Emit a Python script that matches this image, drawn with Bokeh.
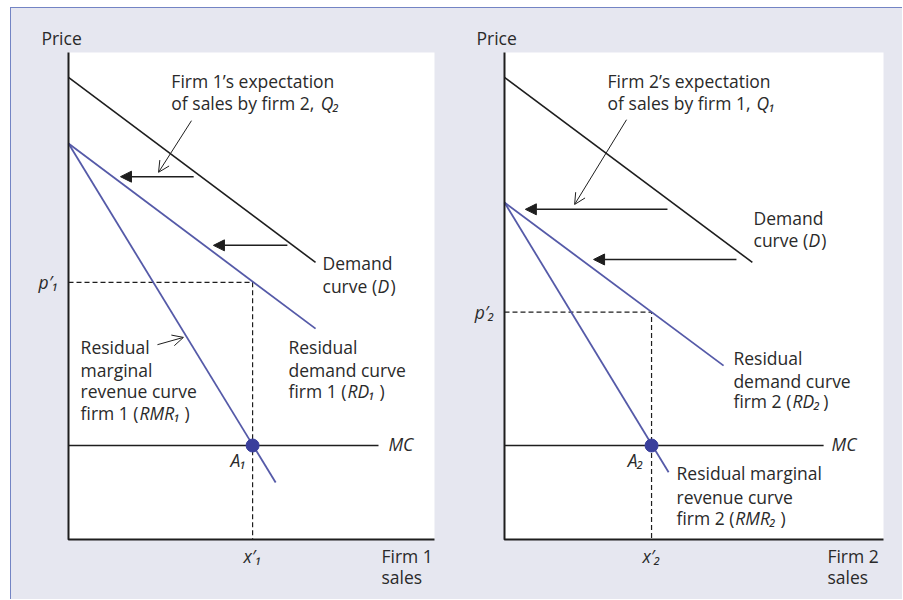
from bokeh.plotting import figure
from bokeh.layouts import row
from bokeh.models import Range1d, Label, Arrow, NormalHead, OpenHead, ColumnDataSource
from bokeh.embed import file_html
from bokeh.resources import INLINE

# ---------------- data (price and quantity on 0-10 scales) -------------
# Firm 1 panel
f1_demand_q = [0.0, 6.75]
f1_demand_p = [9.49, 5.69]
f1_rd_q = [0.0, 6.75]
f1_rd_p = [8.13, 4.33]
f1_rmr_q = [0.0, 5.66]
f1_rmr_p = [8.13, 1.17]
f1_mc_q = [0.0, 8.47]
f1_mc_p = [1.93, 1.93]
f1_x_opt = 5.03
f1_p_opt = 5.28
f1_shift_p = [7.45, 6.04]
f1_shift_from = [3.42, 5.98]
f1_shift_to = [1.42, 3.96]
f1_note_from = (3.36, 8.60)
f1_note_to = (2.46, 7.54)
f1_rmr_note_from = (2.43, 4.00)
f1_rmr_note_to = (3.14, 4.15)

# Firm 2 panel
f2_demand_q = [0.0, 6.54]
f2_demand_p = [9.49, 5.69]
f2_rd_q = [0.0, 5.78]
f2_rd_p = [6.92, 3.57]
f2_rmr_q = [0.0, 4.33]
f2_rmr_p = [6.92, 1.38]
f2_mc_q = [0.0, 8.42]
f2_mc_p = [1.93, 1.93]
f2_x_opt = 3.88
f2_p_opt = 4.67
f2_shift_p = [6.78, 5.75]
f2_shift_from = [4.30, 6.12]
f2_shift_to = [0.55, 2.35]
f2_note_from = (3.22, 8.62)
f2_note_to = (1.85, 6.88)

# axis extent of both panels (quantity, price)
axis_q = [0.0, 0.0, 10.0]
axis_p = [10.0, 0.0, 0.0]

# tick labels
f1_p_tick = "p′₁"
f1_x_tick = "x′₁"
f2_p_tick = "p′₂"
f2_x_tick = "x′₂"

# text labels: (text, x, y, style, align)
f1_labels = [
    ("Price", -0.74, 10.29, "normal", "left"),
    ("Firm 1’s expectation", 2.81, 9.42, "normal", "left"),
    ("of sales by firm 2,", 2.81, 8.97, "normal", "left"),
    ("Q₂", 6.89, 8.97, "italic", "left"),
    ("Demand", 6.94, 5.67, "normal", "left"),
    ("curve (", 6.94, 5.20, "normal", "left"),
    ("D", 8.44, 5.20, "italic", "left"),
    (")", 8.80, 5.20, "normal", "left"),
    ("Residual", 0.33, 3.96, "normal", "left"),
    ("marginal", 0.33, 3.49, "normal", "left"),
    ("revenue curve", 0.33, 3.04, "normal", "left"),
    ("firm 1 (", 0.33, 2.59, "normal", "left"),
    ("RMR₁", 1.94, 2.59, "italic", "left"),
    (")", 3.17, 2.59, "normal", "left"),
    ("Residual", 6.01, 3.96, "normal", "left"),
    ("demand curve", 6.01, 3.49, "normal", "left"),
    ("firm 1 (", 6.01, 3.04, "normal", "left"),
    ("RD₁", 7.62, 3.04, "italic", "left"),
    (")", 8.50, 3.04, "normal", "left"),
    ("MC", 8.74, 1.97, "italic", "left"),
    ("A₁", 4.86, 1.64, "italic", "right"),
    ("Firm 1", 8.55, -0.33, "normal", "left"),
    ("sales", 8.55, -0.78, "normal", "left"),
]
f2_labels = [
    ("Price", -0.74, 10.29, "normal", "left"),
    ("Firm 2’s expectation", 2.72, 9.42, "normal", "left"),
    ("of sales by firm 1,", 2.72, 8.97, "normal", "left"),
    ("Q₁", 6.65, 8.97, "italic", "left"),
    ("Demand", 6.57, 6.61, "normal", "left"),
    ("curve (", 6.57, 6.14, "normal", "left"),
    ("D", 8.02, 6.14, "italic", "left"),
    (")", 8.36, 6.14, "normal", "left"),
    ("Residual", 6.04, 3.72, "normal", "left"),
    ("demand curve", 6.04, 3.26, "normal", "left"),
    ("firm 2 (", 6.04, 2.85, "normal", "left"),
    ("RD₂", 7.60, 2.85, "italic", "left"),
    (")", 8.41, 2.85, "normal", "left"),
    ("Residual marginal", 4.54, 1.36, "normal", "left"),
    ("revenue curve", 4.54, 0.88, "normal", "left"),
    ("firm 2 (", 4.54, 0.45, "normal", "left"),
    ("RMR₂", 6.09, 0.45, "italic", "left"),
    (")", 7.28, 0.45, "normal", "left"),
    ("MC", 8.63, 1.97, "italic", "left"),
    ("A₂", 3.67, 1.64, "italic", "right"),
    ("Firm 2", 8.52, -0.33, "normal", "left"),
    ("sales", 8.52, -0.78, "normal", "left"),
]

FONT = "Open Sans"
FSIZE = "17.5px"
TEXT = "#2a2a2a"
BLACK = "#1e1e1e"
BLUE = "#555aa8"
DOT = "#3a3f9c"
BG = "#e6e7f0"
BORDER = "#7384c4"


def make_panel(width, xr, demand, rd, rmr, mc, x_opt, p_opt, shift_p, shift_from, shift_to,
               notes, p_tick, p_tick_x, x_tick, labels):
    p = figure(width=width, height=591, output_backend="svg", toolbar_location=None,
               x_range=Range1d(*xr), y_range=Range1d(-1.232, 10.9035),
               x_axis_location=None, y_axis_location=None, min_border=0)
    p.min_border_left = p.min_border_right = p.min_border_top = p.min_border_bottom = 0
    p.background_fill_color = BG
    p.border_fill_color = BG
    p.outline_line_color = None
    p.grid.visible = False

    # white plotting area and axes
    p.quad(left=[axis_q[0]], right=[axis_q[2]], bottom=[axis_p[1]], top=[axis_p[0]],
           fill_color="white", line_color=None)

    # dashed guides
    p.line([0, x_opt, x_opt], [p_opt, p_opt, 0], line_color=BLACK, line_width=1.2,
           line_dash="5 3")

    p.line(demand[0], demand[1], line_color=BLACK, line_width=1.6)
    p.line(rd[0], rd[1], line_color=BLUE, line_width=1.8)
    p.line(rmr[0], rmr[1], line_color=BLUE, line_width=1.8)
    p.line(mc[0], mc[1], line_color=BLACK, line_width=1.4)
    p.line(axis_q, axis_p, line_color=BLACK, line_width=2)
    p.scatter([x_opt], [mc[1][0]], size=13, fill_color=DOT, line_color=DOT)

    src = ColumnDataSource(dict(x0=shift_from, x1=shift_to, y=shift_p))
    p.add_layout(Arrow(source=src, x_start="x0", y_start="y", x_end="x1", y_end="y",
                       line_color=BLACK, line_width=1.5,
                       end=NormalHead(size=11, fill_color=BLACK, line_color=BLACK)))
    for (a, b) in notes:
        p.add_layout(Arrow(x_start=a[0], y_start=a[1], x_end=b[0], y_end=b[1],
                           line_color=BLACK, line_width=1,
                           end=OpenHead(size=11, line_color=BLACK, line_width=1)))

    # tick labels
    p.add_layout(Label(x=p_tick_x, y=p_opt, text=p_tick, text_font=FONT, text_font_size=FSIZE,
                       text_font_style="italic", text_color=TEXT, text_align="right",
                       text_baseline="middle"))
    p.add_layout(Label(x=x_opt, y=-0.33, text=x_tick, text_font=FONT, text_font_size=FSIZE,
                       text_font_style="italic", text_color=TEXT, text_align="center",
                       text_baseline="middle"))

    for text, x, y, style, align in labels:
        p.add_layout(Label(x=x, y=y, text=text, text_font=FONT, text_font_size=FSIZE,
                           text_font_style=style, text_color=TEXT, text_align=align,
                           text_baseline="middle"))
    return p


p1 = make_panel(440, (-1.5574, 10.4645), (f1_demand_q, f1_demand_p), (f1_rd_q, f1_rd_p),
                (f1_rmr_q, f1_rmr_p), (f1_mc_q, f1_mc_p), f1_x_opt, f1_p_opt,
                f1_shift_p, f1_shift_from, f1_shift_to,
                [(f1_note_from, f1_note_to), (f1_rmr_note_from, f1_rmr_note_to)],
                f1_p_tick, -0.27, f1_x_tick, f1_labels)
p2 = make_panel(451, (-1.3984, 10.5013), (f2_demand_q, f2_demand_p), (f2_rd_q, f2_rd_p),
                (f2_rmr_q, f2_rmr_p), (f2_mc_q, f2_mc_p), f2_x_opt, f2_p_opt,
                f2_shift_p, f2_shift_from, f2_shift_to,
                [(f2_note_from, f2_note_to)],
                f2_p_tick, -0.26, f2_x_tick, f2_labels)

layout = row(p1, p2, margin=(7, 0, 0, 10),
             styles={"border-top": "1px solid " + BORDER, "border-left": "1px solid " + BORDER,
                     "background-color": BG})

open("out.html", "w").write(file_html(layout, INLINE))
